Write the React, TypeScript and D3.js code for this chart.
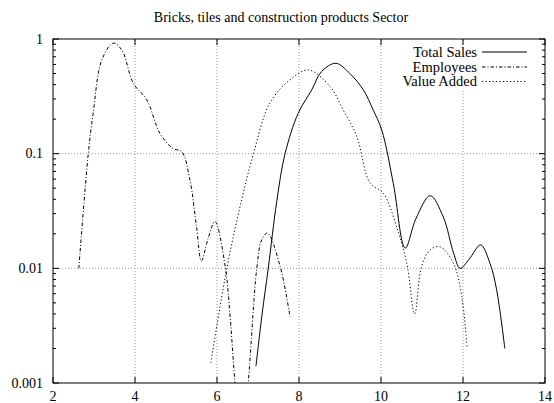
import React from "react";
import * as d3 from "d3";

const title = "Bricks, tiles and construction products Sector";
const xTicks = [2, 4, 6, 8, 10, 12, 14];
const yTicks = [1, 0.1, 0.01, 0.001];
const yTickLabels = ["1", "0.1", "0.01", "0.001"];

const totalSalesX = [6.95, 7.1, 7.25, 7.46, 7.66, 7.98, 8.31, 8.55, 8.9, 9.24, 9.57, 9.81, 10.02, 10.3, 10.59, 10.85, 11.2, 11.52, 11.77, 11.93, 12.15, 12.43, 12.66, 12.82, 13.02];
const totalSalesY = [0.0014, 0.004, 0.01, 0.039, 0.1, 0.225, 0.36, 0.52, 0.614, 0.5, 0.36, 0.24, 0.16, 0.055, 0.015, 0.027, 0.043, 0.028, 0.0136, 0.01, 0.012, 0.016, 0.011, 0.0065, 0.002];

const employeesX = [2.63, 2.86, 2.98, 3.19, 3.47, 3.68, 3.96, 4.29, 4.61, 4.93, 5.14, 5.34, 5.5, 5.62, 5.78, 5.95, 6.2, 6.32, 6.44, 6.6, 6.76, 6.97, 7.09, 7.23, 7.54, 7.78];
const employeesY = [0.01, 0.1, 0.225, 0.656, 0.92, 0.8, 0.41, 0.294, 0.15, 0.111, 0.104, 0.059, 0.023, 0.0116, 0.018, 0.0256, 0.0104, 0.0038, 0.001, 0.0003, 0.001, 0.01, 0.0177, 0.0203, 0.0104, 0.0038];

const valueAddedX = [5.85, 6.24, 6.6, 6.89, 7.29, 7.78, 8.23, 8.76, 9.08, 9.41, 9.73, 10.06, 10.38, 10.63, 10.82, 10.99, 11.2, 11.44, 11.77, 11.97, 12.1];
const valueAddedY = [0.0015, 0.01, 0.0394, 0.1, 0.277, 0.44, 0.537, 0.384, 0.24, 0.141, 0.0556, 0.045, 0.023, 0.011, 0.004, 0.0104, 0.0145, 0.0154, 0.011, 0.0057, 0.002];

const seriesNames = ["Total Sales", "Employees", "Value Added"];

const W = 554, H = 403;
const L = 53, R = 545, T = 39, B = 383;

export default function App() {
  const x = d3.scaleLinear().domain([2, 14]).range([L, R]);
  const y = d3.scaleLog().domain([0.001, 1]).range([B, T]);
  const line = d3
    .line<[number, number]>()
    .x((d) => x(d[0]))
    .y((d) => y(d[1]))
    .curve(d3.curveCatmullRom.alpha(0.5));

  const series = [
    { xs: totalSalesX, ys: totalSalesY, dash: undefined as string | undefined },
    { xs: employeesX, ys: employeesY, dash: "3.5,2,1,2" },
    { xs: valueAddedX, ys: valueAddedY, dash: "1.2,2.3" },
  ];

  const minor: number[] = [];
  [0.001, 0.01, 0.1].forEach((dec) => {
    for (let k = 2; k <= 9; k++) minor.push(dec * k);
  });

  const font = "Liberation Serif, Times New Roman, serif";
  const legendRows = [52, 67, 81.5];

  return (
    <svg
      width={W}
      height={H}
      style={{ position: "absolute", left: 0, top: 0, background: "#fff", fontFamily: font }}
    >
      <defs>
        <clipPath id="plot">
          <rect x={L} y={T} width={R - L} height={B - T} />
        </clipPath>
      </defs>
      <rect x={0} y={0} width={W} height={H} fill="#fff" />
      <text x={281} y={22} textAnchor="middle" fontSize={14}>
        {title}
      </text>
      {/* grid */}
      <g stroke="#999" strokeWidth={1} strokeDasharray="1,2">
        {xTicks.slice(1, -1).map((t) => (
          <line key={"gx" + t} x1={x(t)} x2={x(t)} y1={B} y2={T} />
        ))}
        {yTicks.slice(1, -1).map((t) => (
          <line key={"gy" + t} x1={L} x2={R} y1={y(t)} y2={y(t)} />
        ))}
      </g>
      {/* legend background mask */}
      <rect x={396} y={44} width={138} height={45} fill="#fff" />
      {/* ticks */}
      <g stroke="#000" strokeWidth={1}>
        {xTicks.map((t) => (
          <g key={"tx" + t}>
            <line x1={x(t)} x2={x(t)} y1={B} y2={B - 6} />
            <line x1={x(t)} x2={x(t)} y1={T} y2={T + 6} />
          </g>
        ))}
        {yTicks.map((t) => (
          <g key={"ty" + t}>
            <line x1={L} x2={L + 6} y1={y(t)} y2={y(t)} />
            <line x1={R} x2={R - 6} y1={y(t)} y2={y(t)} />
          </g>
        ))}
        {minor.map((t) => (
          <g key={"mn" + t}>
            <line x1={L} x2={L + 3} y1={y(t)} y2={y(t)} />
            <line x1={R} x2={R - 3} y1={y(t)} y2={y(t)} />
          </g>
        ))}
      </g>
      {/* labels */}
      <g fontSize={14} fill="#000">
        {xTicks.map((t) => (
          <text key={"lx" + t} x={x(t)} y={401} textAnchor="middle">
            {t}
          </text>
        ))}
        {yTicks.map((t, i) => (
          <text key={"ly" + t} x={L - 10} y={y(t) + 4.5} textAnchor="end">
            {yTickLabels[i]}
          </text>
        ))}
      </g>
      {/* curves */}
      <g clipPath="url(#plot)" fill="none" stroke="#000" strokeWidth={1}>
        {series.map((s, i) => (
          <path
            key={"s" + i}
            d={line(s.xs.map((v, j) => [v, s.ys[j]] as [number, number])) || ""}
            strokeDasharray={s.dash}
          />
        ))}
      </g>
      {/* legend */}
      {series.map((s, i) => (
        <g key={"lg" + i}>
          <text x={477} y={legendRows[i] + 4.8} textAnchor="end" fontSize={14.5}>
            {seriesNames[i]}
          </text>
          <line
            x1={482}
            x2={527}
            y1={legendRows[i]}
            y2={legendRows[i]}
            stroke="#000"
            strokeWidth={1}
            strokeDasharray={s.dash}
          />
        </g>
      ))}
      {/* frame */}
      <rect x={L} y={T} width={R - L} height={B - T} fill="none" stroke="#000" strokeWidth={1} />
    </svg>
  );
}
